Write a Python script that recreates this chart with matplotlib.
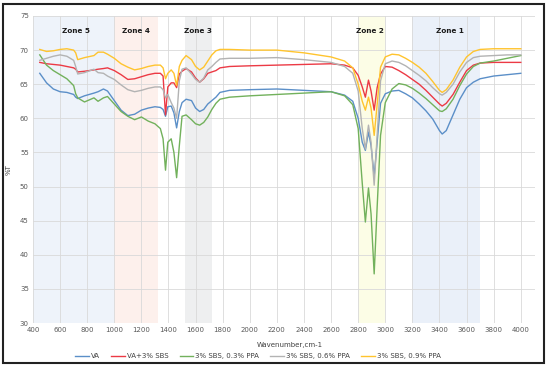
import matplotlib
matplotlib.use("Agg")
import matplotlib.pyplot as plt
from matplotlib.patches import Rectangle

# ---------------- data ----------------
wavenumber = [450, 500, 550, 600, 650, 700, 715, 730, 780, 850,
              880, 920, 950, 1000, 1050, 1100, 1150, 1200, 1250, 1300,
              1340, 1360, 1378, 1395, 1420, 1440, 1460, 1480, 1500, 1530,
              1570, 1600, 1630, 1660, 1690, 1720, 1750, 1780, 1850, 2000,
              2200, 2400, 2600, 2700, 2760, 2800, 2830, 2853, 2876, 2895,
              2918, 2940, 2965, 3000, 3050, 3100, 3150, 3200, 3250, 3300,
              3350, 3400, 3420, 3450, 3500, 3550, 3600, 3650, 3700, 3800,
              3900, 4000]

va = [66.6, 65.2, 64.3, 63.9, 63.8, 63.5, 63.1, 62.9, 63.3, 63.7,
      63.9, 64.3, 64.0, 62.6, 61.2, 60.4, 60.6, 61.2, 61.5, 61.7,
      61.6, 61.3, 60.3, 61.7, 61.8, 60.8, 58.6, 61.0, 62.3, 62.8,
      62.6, 61.5, 61.0, 61.3, 62.1, 62.6, 63.1, 63.8, 64.1, 64.2,
      64.3, 64.1, 63.9, 63.4, 62.5, 60.0, 56.5, 55.3, 58.0, 56.0,
      51.5, 56.5, 62.2, 63.6, 64.0, 64.1, 63.6, 63.0, 62.1, 61.1,
      59.9, 58.2, 57.7, 58.2, 60.5, 62.8, 64.5, 65.3, 65.8, 66.2,
      66.4, 66.6]

va_sbs = [68.2, 68.0, 67.9, 67.8, 67.6, 67.4, 67.2, 66.8, 66.9, 67.1,
          67.2, 67.3, 67.4, 67.0, 66.4, 65.7, 65.8, 66.1, 66.4, 66.6,
          66.6, 66.2, 60.5, 64.6, 65.2, 65.2, 64.5, 66.5, 66.9, 67.3,
          66.8, 65.9, 65.3, 65.8, 66.6, 66.8, 67.0, 67.4, 67.6, 67.7,
          67.8, 67.9, 68.0, 67.8, 67.4, 66.3, 64.6, 63.1, 65.6, 64.0,
          61.2, 64.5, 66.5, 67.6, 67.5, 67.0, 66.4, 65.7, 65.0, 64.1,
          63.1, 62.1, 61.8, 62.2, 63.5, 65.3, 67.0, 67.8, 68.1, 68.2,
          68.2, 68.2]

ppa_03 = [69.3, 67.8, 67.0, 66.4, 65.8, 64.8, 63.6, 63.0, 62.4, 63.0,
          62.5, 63.0, 63.2, 62.1, 61.0, 60.3, 59.8, 60.2, 59.6, 59.2,
          58.5, 57.0, 52.4, 56.5, 57.0, 55.0, 51.3, 56.0, 60.3, 60.5,
          59.8, 59.2, 59.0, 59.4, 60.2, 61.3, 62.2, 62.8, 63.1, 63.3,
          63.5, 63.7, 63.9, 63.3, 62.0, 58.5, 50.5, 44.8, 49.8, 46.0,
          37.2, 47.0, 57.5, 62.3, 64.3, 65.1, 64.9, 64.4, 63.7, 62.9,
          62.0, 61.1, 61.0, 61.4, 62.8, 64.8, 66.5, 67.6, 68.1, 68.4,
          68.8, 69.2]

ppa_06 = [68.5, 68.8, 69.1, 69.3, 69.1, 68.5, 67.6, 66.5, 66.7, 67.2,
          66.7, 66.6, 66.2, 65.7, 64.9, 64.2, 63.9, 64.1, 64.4, 64.6,
          64.6, 64.2, 63.0, 63.5, 62.3, 61.5, 60.0, 65.5, 67.2, 67.4,
          66.5, 65.7, 65.3, 65.9, 67.1, 67.6, 68.2, 68.7, 68.8, 68.8,
          68.9, 68.6, 68.2, 67.6, 66.6, 64.0, 58.5, 55.5, 59.0, 56.5,
          50.2, 57.5, 65.5, 68.0, 68.4, 68.2, 67.7, 67.0, 66.3, 65.5,
          64.5, 63.6, 63.4, 63.8, 65.0, 66.8, 68.2, 68.9, 69.1, 69.2,
          69.3, 69.3]

ppa_09 = [70.1, 69.8, 69.9, 70.1, 70.2, 70.0, 69.6, 68.6, 68.9, 69.2,
          69.7, 69.7, 69.4, 68.8, 68.0, 67.5, 67.1, 67.3, 67.6, 67.8,
          67.8, 67.4, 65.8, 66.6, 67.1, 66.6, 64.8, 67.6, 68.5, 69.2,
          68.6, 67.6, 67.1, 67.5, 68.4, 69.3, 69.9, 70.1, 70.1, 70.0,
          70.0, 69.6, 69.0, 68.4, 67.4, 65.0, 62.5, 61.2, 63.1, 61.5,
          57.5, 62.0, 67.5, 69.0, 69.4, 69.3, 68.8, 68.2, 67.5, 66.6,
          65.4, 64.1, 63.8, 64.2, 65.6, 67.5, 69.0, 69.8, 70.1, 70.2,
          70.2, 70.2]

series_labels = ["VA", "VA+3% SBS", "3% SBS, 0.3% PPA", "3% SBS, 0.6% PPA", "3% SBS, 0.9% PPA"]
series_values = [va, va_sbs, ppa_03, ppa_06, ppa_09]
series_colors = ["#5b8fc8", "#ec3a45", "#72b15c", "#b3b3b3", "#ffc42e"]

zone_names = ["Zone 5", "Zone 4", "Zone 3", "Zone 2", "Zone 1"]
zone_starts = [400, 1000, 1520, 2800, 3200]
zone_ends = [1000, 1320, 1720, 3000, 3700]
zone_label_x = [720, 1160, 1615, 2885, 3480]
zone_colors = ["#eef3fa", "#fdf0ec", "#eeeff0", "#fcfde6", "#eaf0f9"]

x_ticks = list(range(400, 4001, 200))
y_ticks = list(range(30, 76, 5))

# ---------------- figure ----------------
fig = plt.figure(figsize=(5.5, 3.67), dpi=100)
ax = fig.add_axes([33 / 550, 1 - 323 / 367, (535 - 33) / 550, (323 - 16) / 367])

for s, e, c in zip(zone_starts, zone_ends, zone_colors):
    ax.axvspan(s, e, color=c, lw=0, zorder=0)

for xl, name in zip(zone_label_x, zone_names):
    ax.text(xl, 72.8, name, ha="center", va="center", fontsize=5.2,
            fontweight="bold", color="#1a1a1a", zorder=3)

for vals, lab, col in zip(series_values, series_labels, series_colors):
    ax.plot(wavenumber, vals, color=col, lw=1.0, label=lab, zorder=2)

ax.set_xlim(400, 4105)
ax.set_ylim(30, 75)
ax.set_xticks(x_ticks)
ax.set_yticks(y_ticks)
ax.grid(True, color="#d9d9d9", lw=0.6, zorder=1)
ax.set_axisbelow(True)
for sp in ax.spines.values():
    sp.set_visible(False)
ax.tick_params(axis="both", length=0, labelsize=5, colors="#595959", pad=3)

fig.text(290 / 550, 1 - 345 / 367, "Wavenumber,cm-1", ha="center", va="center",
         fontsize=5, color="#404040")
fig.text(9 / 550, 1 - 170 / 367, "%T", ha="center", va="center", rotation=90,
         fontsize=5, color="#404040")

fig.legend(loc="center", bbox_to_anchor=(258 / 550, 1 - 356 / 367), ncol=5,
           frameon=False, fontsize=5, handlelength=2.0, handletextpad=0.3,
           columnspacing=1.6, labelcolor="#404040")

border = Rectangle((3 / 550, 1 - 363 / 367), (544 - 3) / 550, (363 - 4) / 367,
                   transform=fig.transFigure, fill=False, ec="#222222", lw=1.5)
fig.patches.append(border)

fig.savefig("out.png", dpi=100)
